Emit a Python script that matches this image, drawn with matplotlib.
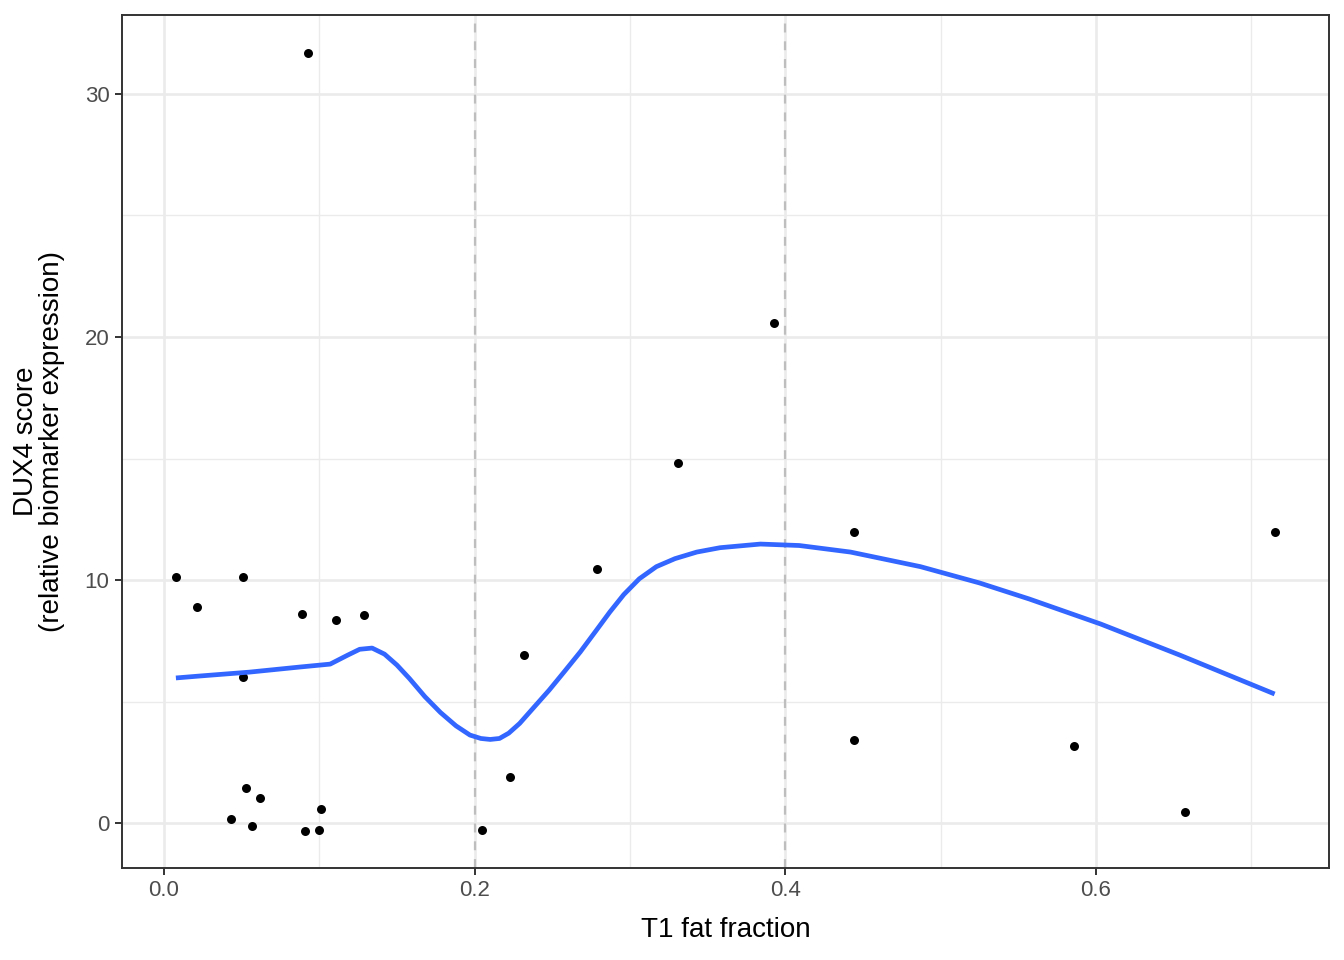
import matplotlib
matplotlib.use("Agg")
import matplotlib.pyplot as plt
from matplotlib.ticker import MultipleLocator

plt.rcParams['font.family'] = ['Liberation Sans', 'DejaVu Sans']

# Scatter data
fat_fraction = [0.0077, 0.021, 0.051, 0.051, 0.053, 0.043, 0.057, 0.062, 0.089, 0.091,
                0.093, 0.100, 0.101, 0.111, 0.129, 0.205, 0.223, 0.232, 0.279, 0.331,
                0.393, 0.444, 0.444, 0.586, 0.657, 0.715]
dux4_score = [10.12, 8.89, 10.12, 6.0, 1.44, 0.16, -0.12, 1.03, 8.6, -0.33,
              31.7, -0.29, 0.58, 8.35, 8.56, -0.29, 1.89, 6.91, 10.45, 14.81,
              20.58, 11.98, 3.42, 3.17, 0.45, 11.98]

# Smooth (loess) curve
smooth_x = [0.0077, 0.023, 0.055, 0.0875, 0.107, 0.118, 0.126, 0.134, 0.142, 0.150, 0.158,
            0.168, 0.178, 0.188, 0.197, 0.204, 0.210, 0.216, 0.222, 0.229, 0.238, 0.248,
            0.258, 0.268, 0.278, 0.287, 0.296, 0.306, 0.317, 0.329, 0.343, 0.358,
            0.384, 0.409, 0.442, 0.487, 0.525, 0.557, 0.603, 0.654, 0.715]
smooth_y = [5.97, 6.05, 6.21, 6.42, 6.54, 6.9, 7.15, 7.2, 6.95, 6.5, 5.95,
            5.2, 4.55, 4.0, 3.62, 3.48, 3.44, 3.48, 3.7, 4.1, 4.75, 5.47,
            6.25, 7.04, 7.9, 8.68, 9.4, 10.05, 10.55, 10.88, 11.15, 11.33,
            11.48, 11.42, 11.15, 10.55, 9.88, 9.22, 8.19, 6.91, 5.31]

vlines = [0.2, 0.4]
x_ticks = [0.0, 0.2, 0.4, 0.6]
x_labels = ["0.0", "0.2", "0.4", "0.6"]
y_ticks = [0, 10, 20, 30]
y_labels = ["0", "10", "20", "30"]

fig = plt.figure(figsize=(13.44, 9.6), dpi=100)
ax = fig.add_axes([122/1344, 92/960, (1329-122)/1344, (868-15)/960])

ax.set_xlim(-0.027, 0.75)
ax.set_ylim(-1.85, 33.25)

ax.set_xticks(x_ticks)
ax.set_xticklabels(x_labels)
ax.set_yticks(y_ticks)
ax.set_yticklabels(y_labels)
ax.xaxis.set_minor_locator(MultipleLocator(0.1))
ax.yaxis.set_minor_locator(MultipleLocator(5))

ax.grid(True, which='major', color='#EBEBEB', linewidth=1.9)
ax.grid(True, which='minor', color='#EBEBEB', linewidth=1.0)
ax.set_axisbelow(True)
ax.tick_params(which='minor', length=0)
ax.tick_params(which='major', length=5, width=1.4, color='#333333',
               labelsize=16, labelcolor='#4D4D4D', pad=4)

for sp in ax.spines.values():
    sp.set_color('#333333')
    sp.set_linewidth(1.4)

for v in vlines:
    ax.axvline(v, color='#BEBEBE', linestyle=(0, (4, 4)), linewidth=1.6, zorder=1.5)

ax.scatter(fat_fraction, dux4_score, s=42, color='black', zorder=3, linewidths=0)
ax.plot(smooth_x, smooth_y, color='#3366FF', linewidth=3.4, zorder=4,
        solid_joinstyle='round', solid_capstyle='butt')

ax.set_xlabel("T1 fat fraction", fontsize=20, labelpad=11)
ax.set_ylabel("DUX4 score\n(relative biomarker expression)", fontsize=20, labelpad=14,
              linespacing=1.0)

fig.savefig("out.png", dpi=100)
